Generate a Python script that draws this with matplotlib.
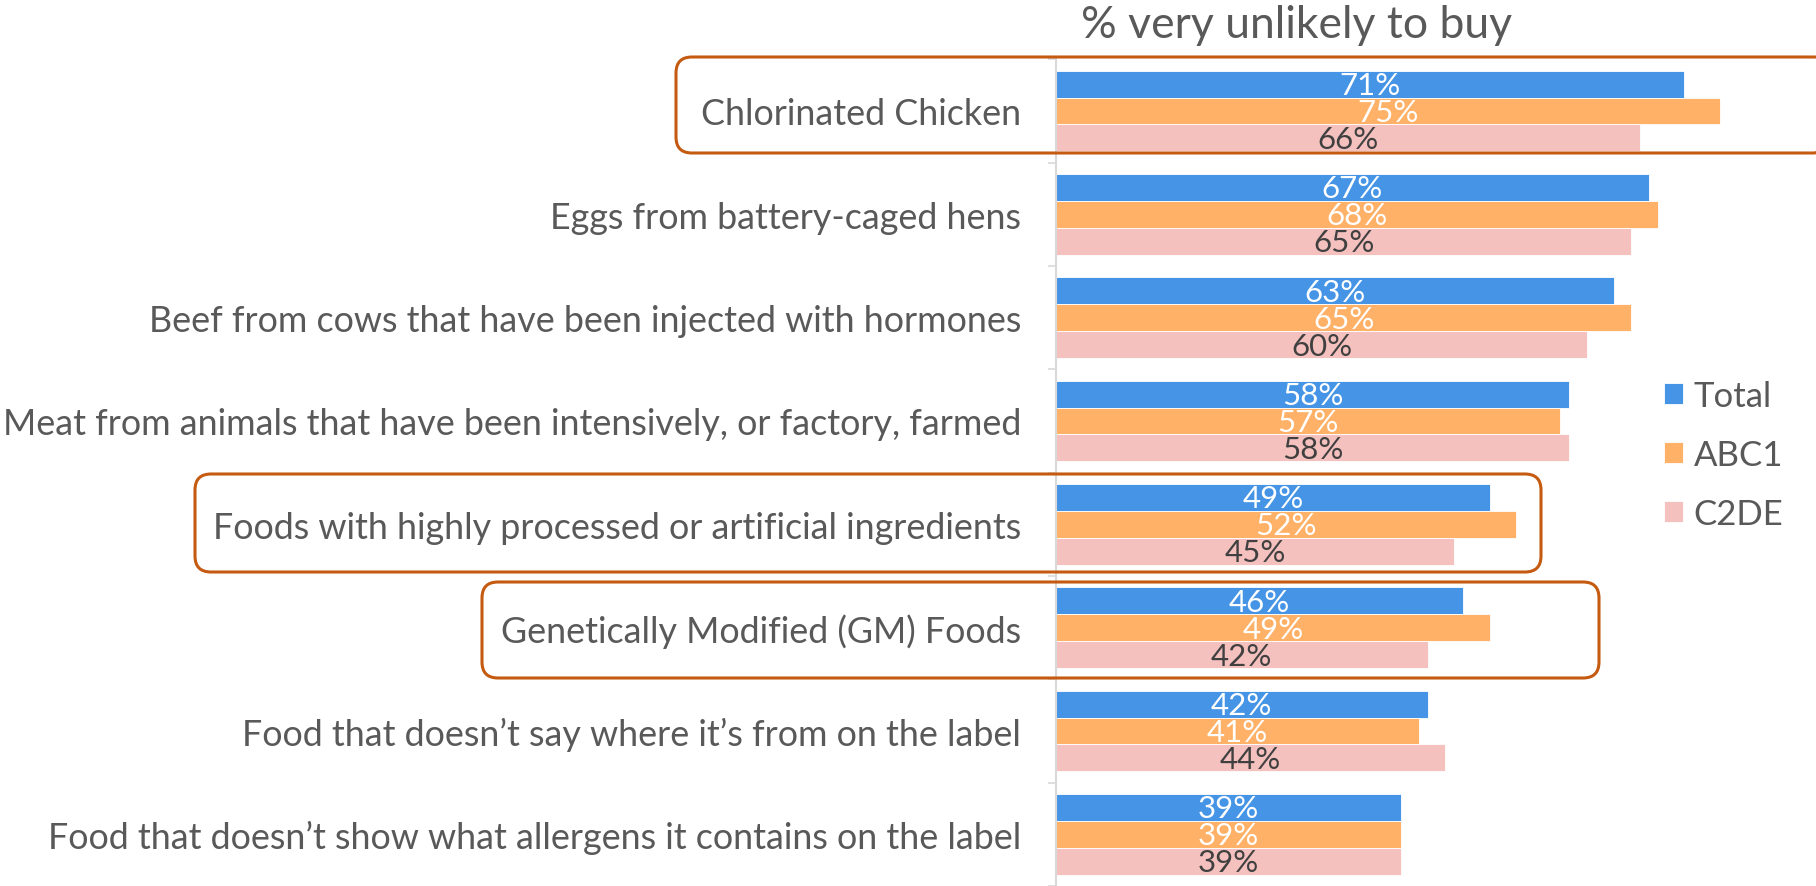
import numpy as np
import matplotlib
matplotlib.use("Agg")
import matplotlib.pyplot as plt
from matplotlib.patches import FancyBboxPatch

categories = [
    "Chlorinated Chicken",
    "Eggs from battery-caged hens",
    "Beef from cows that have been injected with hormones",
    "Meat from animals that have been intensively, or factory, farmed",
    "Foods with highly processed or artificial ingredients",
    "Genetically Modified (GM) Foods",
    "Food that doesn\u2019t say where it\u2019s from on the label",
    "Food that doesn\u2019t show what allergens it contains on the label",
]
total = [71, 67, 63, 58, 49, 46, 42, 39]
abc1 = [75, 68, 65, 57, 52, 49, 41, 39]
c2de = [66, 65, 60, 58, 45, 42, 44, 39]
series_names = ["Total", "ABC1", "C2DE"]

plt.rcParams['font.family'] = ['Lato', 'DejaVu Sans']
grey = "#595959"
colors = ["#4594E6", "#FFB167", "#F5C1BE"]
label_colors = ["white", "white", "#404040"]

W, H = 1816, 887
fig = plt.figure(figsize=(W / 100, H / 100), dpi=100)
ax = fig.add_axes([1056 / W, 0.0, 708 / W, 0.932])

y = np.arange(len(categories))
bh = 0.26
for k, (vals, c, lc, name) in enumerate(zip([total, abc1, c2de], colors, label_colors, series_names)):
    pos = y + (k - 1) * bh
    bars = ax.barh(pos, vals, height=bh, color=c, edgecolor="white", linewidth=0.6, label=name)
    for b, v in zip(bars, vals):
        ax.text(v / 2, b.get_y() + bh / 2 + 0.01, f"{v}%", ha="center", va="center",
                fontsize=22.5, color=lc)

ax.set_xlim(0, 80)
ax.set_ylim(len(categories) - 0.5, -0.5)
ax.set_yticks(y)
ax.set_yticklabels(categories, fontsize=25.8, color=grey)
ax.tick_params(axis="y", which="major", length=0, pad=25)
ax.set_yticks(np.arange(-0.5, len(categories)), minor=True)
ax.tick_params(axis="y", which="minor", length=6, color="#D9D9D9", width=1.2)
ax.set_xticks([])
for s in ["top", "right", "bottom"]:
    ax.spines[s].set_visible(False)
ax.spines["left"].set_color("#D9D9D9")
ax.spines["left"].set_linewidth(1.5)

leg = fig.legend(loc="upper left", bbox_to_anchor=(1650 / W, 1 - 367 / H), frameon=False,
                 fontsize=25, handlelength=0.55, handleheight=0.55, handletextpad=0.3,
                 labelspacing=0.78, borderaxespad=0)
for t in leg.get_texts():
    t.set_color(grey)

fig.text(1297 / W, 1 - 26 / H, "% very unlikely to buy", ha="center", va="center",
         fontsize=32, color=grey)

# highlight boxes drawn in pixel space
ov = fig.add_axes([0, 0, 1, 1], facecolor="none")
ov.set_xlim(0, W)
ov.set_ylim(H, 0)
ov.axis("off")
for x0, y0, x1, y1 in [(676, 58, 1830, 154), (195, 475, 1541, 573), (482, 583, 1599, 679)]:
    ov.add_patch(FancyBboxPatch((x0, y0), x1 - x0, y1 - y0,
                                boxstyle="round,pad=0,rounding_size=16",
                                fill=False, edgecolor="#C55A11", linewidth=2.2))

fig.savefig("out.png", dpi=100)
